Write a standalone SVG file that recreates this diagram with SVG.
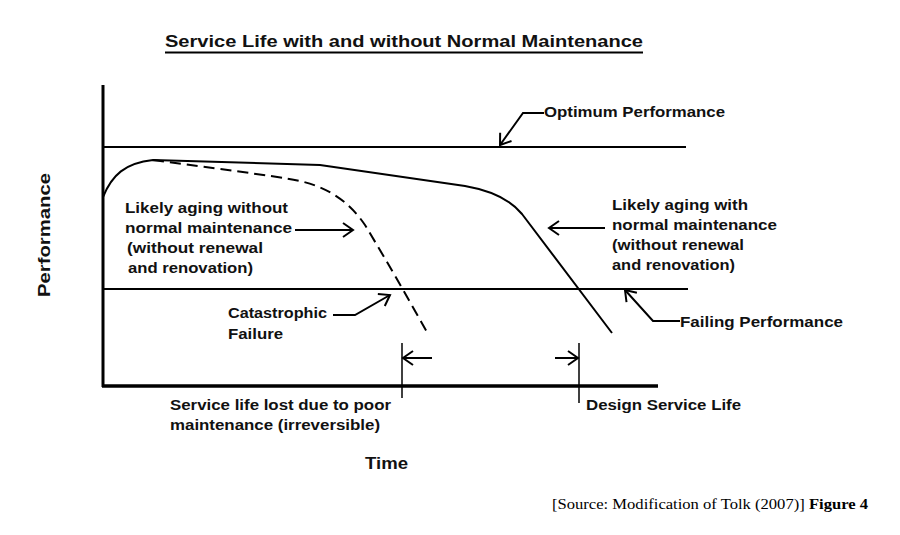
<svg xmlns="http://www.w3.org/2000/svg" width="900" height="535" viewBox="0 0 900 535">
<defs>
<marker id="ah" markerUnits="userSpaceOnUse" markerWidth="14" markerHeight="18" refX="11" refY="8" orient="auto" overflow="visible">
<path d="M1,1 L11,8 L1,15" fill="none" stroke="#000" stroke-width="2"/>
</marker>
<style>
.lbl{font-family:"Liberation Sans",Arial,sans-serif;font-weight:bold;font-size:14px;fill:#111}
.ln{stroke:#000;fill:none}
.lead{stroke:#000;stroke-width:2;fill:none;marker-end:url(#ah)}
</style>
</defs>
<rect width="900" height="535" fill="#fff"/>
<text x="165" y="47" class="lbl" style="font-size:17px" textLength="478" lengthAdjust="spacingAndGlyphs">Service Life with and without Normal Maintenance</text>
<line x1="165" y1="52.5" x2="643" y2="52.5" stroke="#000" stroke-width="2"/>

<g id="axes">
<line class="ln" x1="103" y1="85" x2="103" y2="387" stroke-width="3"/>
<line class="ln" x1="102" y1="386" x2="658" y2="386" stroke-width="3.5"/>
<text class="lbl" transform="translate(50,235) rotate(-90)" text-anchor="middle" style="font-size:16px" textLength="124" lengthAdjust="spacingAndGlyphs">Performance</text>
<text class="lbl" x="365" y="469" style="font-size:17px" textLength="43" lengthAdjust="spacingAndGlyphs">Time</text>
</g>

<g id="optimum">
<line class="ln" x1="103" y1="147" x2="686" y2="147" stroke-width="2"/>
<text class="lbl" x="544" y="117" textLength="181" lengthAdjust="spacingAndGlyphs">Optimum Performance</text>
</g>
<g id="failing">
<line class="ln" x1="103" y1="289" x2="688" y2="289" stroke-width="2"/>
<text class="lbl" x="680" y="327" textLength="163" lengthAdjust="spacingAndGlyphs">Failing Performance</text>
</g>

<g id="curve-normal">
<path class="ln" stroke-width="2" d="M103,197 C112,175 125,163 153,160 L320,165 L465,186 Q505,193 522,214 L612,333"/>
</g>
<g id="curve-without">
<path class="ln" stroke-width="2" stroke-dasharray="11,6" d="M153,160 C210,168 270,175 300,181 C330,188 350,203 365,225 C380,250 395,275 428,334"/>
</g>

<g id="label-without">
<text class="lbl" x="125" y="213" textLength="163" lengthAdjust="spacingAndGlyphs">Likely aging without</text>
<text class="lbl" x="125" y="233" textLength="167" lengthAdjust="spacingAndGlyphs">normal maintenance</text>
<text class="lbl" x="127" y="253" textLength="136" lengthAdjust="spacingAndGlyphs">(without renewal</text>
<text class="lbl" x="128" y="273" textLength="125" lengthAdjust="spacingAndGlyphs">and renovation)</text>
</g>
<g id="label-with">
<text class="lbl" x="612" y="210" textLength="136" lengthAdjust="spacingAndGlyphs">Likely aging with</text>
<text class="lbl" x="612" y="230" textLength="165" lengthAdjust="spacingAndGlyphs">normal maintenance</text>
<text class="lbl" x="612" y="250" textLength="132" lengthAdjust="spacingAndGlyphs">(without renewal</text>
<text class="lbl" x="612" y="270" textLength="123" lengthAdjust="spacingAndGlyphs">and renovation)</text>
</g>
<g id="catastrophic">
<text class="lbl" x="228" y="318" textLength="99" lengthAdjust="spacingAndGlyphs">Catastrophic</text>
<text class="lbl" x="228" y="339" textLength="55" lengthAdjust="spacingAndGlyphs">Failure</text>
</g>
<g id="lost">
<text class="lbl" x="170" y="410" textLength="221" lengthAdjust="spacingAndGlyphs">Service life lost due to poor</text>
<text class="lbl" x="170" y="430" textLength="210" lengthAdjust="spacingAndGlyphs">maintenance (irreversible)</text>
</g>
<g id="design">
<text class="lbl" x="586" y="410" textLength="155" lengthAdjust="spacingAndGlyphs">Design Service Life</text>
</g>

<g id="connectors">
<line class="lead" x1="295" y1="230" x2="353" y2="230"/>
<line class="lead" x1="605" y1="228" x2="549" y2="228"/>
<polyline class="lead" points="544,113 523,113 500,145"/>
<polyline class="lead" points="680,321 653,321 625,290"/>
<polyline class="lead" points="333,315 355,315 390,295"/>
<line class="ln" x1="402" y1="343" x2="402" y2="398" stroke-width="1.5"/>
<line class="ln" x1="579" y1="343" x2="579" y2="403" stroke-width="1.5"/>
<line class="lead" x1="432" y1="358" x2="403" y2="358"/>
<line class="lead" x1="555" y1="358" x2="578" y2="358"/>
</g>

<text x="552" y="509" font-family="'Liberation Serif','Times New Roman',serif" font-size="14.5" fill="#000" textLength="316" lengthAdjust="spacingAndGlyphs">[Source: Modification of Tolk (2007)] <tspan font-weight="bold">Figure 4</tspan></text>
</svg>
